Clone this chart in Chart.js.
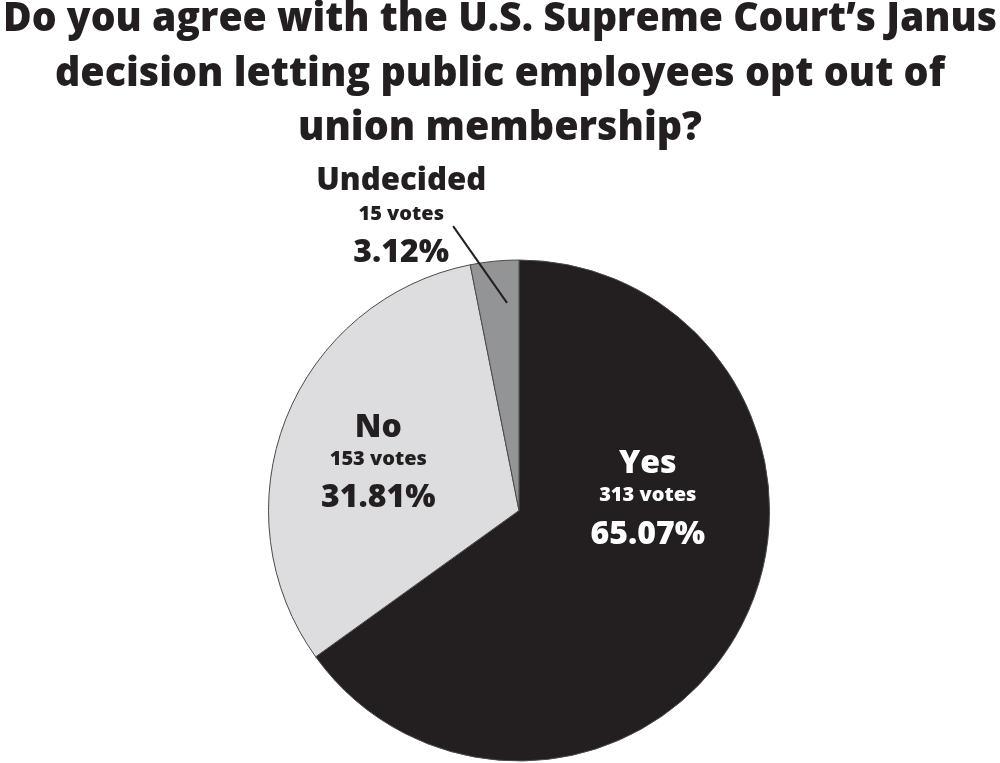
<!DOCTYPE html>
<html>
<head>
<meta charset="utf-8">
<script src="https://cdn.jsdelivr.net/npm/chart.js@4.4.1/dist/chart.umd.min.js"></script>
<style>
  html, body { margin: 0; padding: 0; background: #fff; }
  #wrap { width: 1000px; height: 763px; }
</style>
</head>
<body>
<div id="wrap"><canvas id="myChart" width="1000" height="763"></canvas></div>
<script>
// poll data
const labels = ["Yes", "No", "Undecided"];
const votes = [313, 153, 15];
const percents = ["65.07%", "31.81%", "3.12%"];
const titleLines = [
  "Do you agree with the U.S. Supreme Court\u2019s Janus",
  "decision letting public employees opt out of",
  "union membership?"
];

const sliceColors = ["#231f20", "#dddddf", "#939496"];
const textColors = ["#ffffff", "#231f20", "#231f20"];
const FONT = "'Open Sans', 'Noto Sans', sans-serif";

// where each label block sits, as offsets from the pie centre (px at r = 251)
// baselines for name / votes line / percent line
const placement = [
  { dx: 129, base: [-38, -10, 34] },
  { dx: -141, base: [-74, -46, -4] },
  { dx: -118, base: [-321, -291, -249], leader: [[-66, -285], [-12, -208]] }
];

const titlePlugin = {
  id: "titleText",
  afterDraw(chart) {
    const ctx = chart.ctx;
    const baselines = [31, 86, 140];
    const maxW = [994, 890, 404];
    ctx.save();
    ctx.fillStyle = "#231f20";
    ctx.font = "800 41px " + FONT;
    ctx.textAlign = "center";
    ctx.textBaseline = "alphabetic";
    titleLines.forEach(function(line, i) {
      ctx.fillText(line, 500, baselines[i], maxW[i]);
    });
    ctx.restore();
  }
};

const sliceLabels = {
  id: "sliceLabels",
  afterDatasetsDraw(chart) {
    const ctx = chart.ctx;
    const meta = chart.getDatasetMeta(0);
    ctx.save();
    ctx.textAlign = "center";
    ctx.textBaseline = "alphabetic";
    meta.data.forEach(function(arc, i) {
      const p = placement[i];
      const k = arc.outerRadius / 251;
      const cx = arc.x + p.dx * k;
      if (p.leader) {
        ctx.strokeStyle = "#231f20";
        ctx.lineWidth = 2;
        ctx.beginPath();
        ctx.moveTo(arc.x + p.leader[0][0] * k, arc.y + p.leader[0][1] * k);
        ctx.lineTo(arc.x + p.leader[1][0] * k, arc.y + p.leader[1][1] * k);
        ctx.stroke();
      }
      ctx.fillStyle = textColors[i];
      ctx.font = "800 32px " + FONT;
      ctx.fillText(labels[i], cx, arc.y + p.base[0] * k, 170);
      ctx.font = "800 20px " + FONT;
      ctx.fillText(votes[i] + " votes", cx, arc.y + p.base[1] * k);
      ctx.font = "800 32px " + FONT;
      ctx.fillText(percents[i], cx, arc.y + p.base[2] * k);
    });
    ctx.restore();
  }
};

const chart = new Chart(document.getElementById("myChart"), {
  type: "pie",
  data: {
    labels: labels,
    datasets: [{
      data: votes,
      backgroundColor: sliceColors,
      borderColor: "#4a4a4a",
      borderWidth: 1
    }]
  },
  options: {
    responsive: false,
    animation: false,
    layout: { padding: { top: 259, bottom: 1, left: 268, right: 230 } },
    plugins: {
      legend: { display: false },
      tooltip: { enabled: false },
      title: { display: false }
    }
  },
  plugins: [sliceLabels, titlePlugin]
});
</script>
</body>
</html>
